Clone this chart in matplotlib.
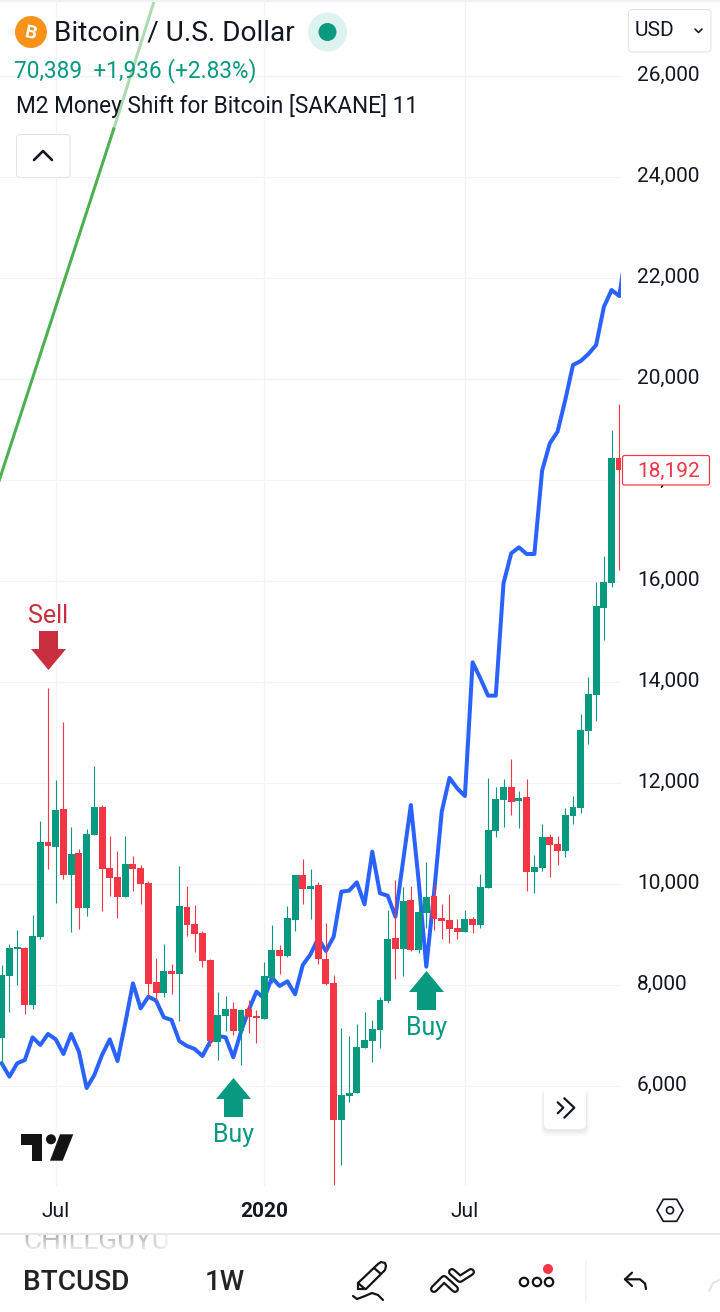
# BTCUSD weekly chart, phone layout, with M2 shift line and Buy/Sell signals
import numpy as np
import matplotlib
matplotlib.use("Agg")
import matplotlib.pyplot as plt
from matplotlib.path import Path
from matplotlib.patches import Circle, FancyBboxPatch, Polygon, Rectangle
from matplotlib.transforms import ScaledTranslation

# weekly candles
opens = [6957, 8178, 8719, 8733, 7611, 8950, 10831, 10732, 11485, 10178, 10614, 9525, 10970, 11524,
         10317, 10138, 9742, 10396, 10317, 10020, 8059, 7841, 8277, 8218, 9544, 9208, 9030, 8495,
         6871, 7386, 7525, 7089, 7525, 7366, 7327, 8139, 8693, 8574, 9287, 10178, 9901, 9980, 8515,
         8040, 5327, 5802, 5862, 6752, 6891, 7109, 7683, 8931, 8713, 9683, 8693, 9426, 9762, 9327,
         9287, 9129, 9049, 9307, 9188, 9921, 11049, 11663, 11920, 11643, 11722, 10237, 10317, 10931,
         10792, 10653, 11346, 11505, 13029, 13742, 15465, 15960, 18435]
highs = [8396, 8812, 9089, 8759, 9386, 11247, 13881, 12059, 13207, 11128, 10693, 11089, 12336, 11564,
         10950, 10653, 10950, 10554, 10376, 10059, 8535, 8812, 8416, 10356, 9960, 9584, 9069, 8515,
         7861, 7782, 7663, 7525, 7703, 7505, 8455, 9188, 8792, 9564, 10178, 10495, 10297, 10033, 9228,
         8198, 7149, 6990, 7228, 7465, 7307, 7762, 9485, 10079, 9940, 9960, 9762, 10435, 10026, 9604,
         9802, 9307, 9485, 9346, 10198, 12099, 11920, 12079, 12475, 11841, 12079, 10574, 11188, 10990,
         10950, 11505, 11742, 13366, 14098, 15979, 16494, 18989, 19504]
lows = [6383, 7465, 8000, 7426, 7525, 8911, 10297, 9624, 10099, 9049, 9109, 9366, 10970, 9465,
        9762, 9327, 9742, 9861, 9604, 7762, 7703, 7762, 7822, 7287, 8970, 8653, 8356, 6792,
        6515, 7089, 7010, 6416, 7050, 6852, 7327, 8040, 8218, 8554, 9069, 9604, 9307, 8416, 8000,
        4040, 4436, 5683, 5862, 6752, 6475, 6752, 7644, 8119, 8178, 8673, 8634, 9129, 9089, 8911,
        8832, 8911, 9049, 9030, 9129, 9921, 10931, 11128, 11366, 11109, 9861, 9822, 10257, 10139,
        10376, 10534, 11188, 11406, 12772, 13227, 14831, 15880, 16217]
closes = [8198, 8733, 8733, 7611, 8970, 10831, 10752, 11465, 10178, 10594, 9525, 10990, 11524, 10297,
          10119, 9742, 10396, 10297, 10000, 8020, 7841, 8277, 8218, 9564, 9188, 9010, 8475, 6891,
          7406, 7525, 7089, 7505, 7366, 7353, 8178, 8693, 8574, 9327, 10178, 9901, 9960, 8515, 8020,
          5327, 5822, 5862, 6772, 6911, 7129, 7703, 8911, 8713, 9663, 8693, 9445, 9742, 9307, 9267,
          9109, 9049, 9307, 9188, 9940, 11069, 11683, 11920, 11624, 11703, 10237, 10336, 10931, 10772,
          10653, 11366, 11524, 13049, 13762, 15504, 15979, 18435, 18192]

# M2 line, one value a week (last one runs past the clip edge)
m2_shift = [6449, 6185, 6449, 6515, 6964, 6812, 7030, 6924, 6634, 7030, 6680, 5961, 6218, 6614,
            6924, 6495, 7241, 8033, 7538, 7769, 7690, 7360, 7307, 6891, 6792, 6733, 6594, 6878,
            6990, 6964, 6568, 7076, 7505, 7868, 7736, 8145, 7980, 8073, 7815, 8396, 8607, 8924, 8673,
            8957, 9848, 9868, 10033, 9597, 10640, 9815, 9769, 9353, 10462, 11564, 10079, 8363, 9815,
            11432, 12100, 11894, 11742, 14389, 14072, 13729, 13729, 15953, 16547, 16666, 16534, 16534,
            18184, 18725, 18956, 19583, 20276, 20355, 20494, 20672, 21425, 21761, 21642, 22650]

# long green trend line, the part behind the legend is paler
trend_x = [-2, 14.51]
trend_y = [17204, 24949]
trend_pale_x = [14.51, 22]
trend_pale_y = [24949, 28568]

price_ticks = [6000, 8000, 10000, 12000, 14000, 16000, 18000, 20000, 22000, 24000, 26000]
time_ticks = [7, 34, 60]
time_labels = ["Jul", "2020", "Jul"]

# signals: week, where the arrow sits, label
sell_signals = [(6, 14623, "Sell")]
buy_signals = [(30, 5773, "Buy"), (55, 7907, "Buy")]

last_price = 18192

GREEN = "#089981"
RED = "#F23645"
BLUE = "#2962FF"
INK = "#131722"
GRID = "#F2F3F6"
px = 0.72  # one pixel in points at dpi 100

plt.rcParams["font.family"] = ["Roboto", "DejaVu Sans"]

fig = plt.figure(figsize=(7.2, 13.12), dpi=100)
ax = fig.add_axes([0, (1312 - 1186) / 1312, 621 / 720, 1186 / 1312], zorder=1)
ax.set_xlim(-0.22, 80.22)
ax.set_ylim(4020, 27503)

weeks = np.arange(len(opens))
o = np.array(opens)
c = np.array(closes)
colors = [GREEN if up else RED for up in c >= o]

ax.plot(trend_x, trend_y, color="#4CAF50", lw=3.0 * px, zorder=2)
ax.plot(trend_pale_x, trend_pale_y, color="#4CAF50", lw=3.0 * px, alpha=0.45, zorder=2)
ax.plot(np.arange(len(m2_shift)), m2_shift, color=BLUE, lw=4.0 * px, zorder=3, solid_joinstyle="round")

ax.vlines(weeks, lows, highs, colors=colors, lw=1.1 * px, zorder=4)
ax.bar(weeks, np.abs(c - o).clip(min=25), bottom=np.minimum(o, c), width=0.9, color=colors, zorder=5)

# arrow markers, drawn in pixels around their centre
arrow_up = Path([(0, 19.5), (17.5, -1.5), (9.5, -1.5), (9.5, -19.5), (-9.5, -19.5), (-9.5, -1.5), (-17.5, -1.5), (0, 19.5)], closed=True)
arrow_down = Path(arrow_up.vertices * [1, -1], closed=True)

for week, price, label in sell_signals:
    ax.plot([week], [price], marker=arrow_down, ms=39 * px, mfc="#CA2F3F", mew=0, zorder=6)
    ax.annotate(label, (week, price), xytext=(0, 34 * px), textcoords="offset points",
                ha="center", va="center", color="#CA2F3F", fontsize=18)
for week, price, label in buy_signals:
    ax.plot([week], [price], marker=arrow_up, ms=39 * px, mfc=GREEN, mew=0, zorder=6)
    ax.annotate(label, (week, price), xytext=(0, -38 * px), textcoords="offset points",
                ha="center", va="center", color=GREEN, fontsize=18)

ax.set_yticks(price_ticks)
ax.set_yticklabels([f"{v:,}" for v in price_ticks], fontsize=15, color=INK)
ax.yaxis.tick_right()
ax.tick_params(axis="y", length=0, pad=16 * px)
# price labels sit a little above their grid lines
lift = ScaledTranslation(0, 3 / 100, fig.dpi_scale_trans)
for lab in ax.get_yticklabels():
    lab.set_transform(lab.get_transform() + lift)
ax.set_xticks(time_ticks)
ax.set_xticklabels(time_labels, fontsize=15, color=INK)
ax.get_xticklabels()[1].set_fontweight("bold")
ax.tick_params(axis="x", length=0, pad=16 * px)
ax.grid(True, color=GRID, lw=1.2 * px, zorder=0)
ax.set_axisbelow(True)
for side in ax.spines.values():
    side.set_visible(False)

# everything around the chart, in screen pixels
ov = fig.add_axes([0, 0, 1, 1], zorder=5)
ov.set_xlim(0, 720)
ov.set_ylim(1312, 0)
ov.axis("off")


def box(x0, y0, x1, y1, edge="#E0E3EB", face="white", r=4, lw=1.0, alpha=1, z=3):
    ov.add_patch(FancyBboxPatch((x0, y0), x1 - x0, y1 - y0, boxstyle=f"round,pad=0,rounding_size={r}",
                                fc=face, ec=edge, lw=lw * px, alpha=alpha, zorder=z))


def line(xs, ys, color=INK, w=2.0, z=5):
    ov.plot(xs, ys, color=color, lw=w * px, solid_capstyle="round", solid_joinstyle="round", zorder=z)


# top strip and right hairline
ov.add_patch(Rectangle((0, 0), 720, 2, fc="#EFF1F4", ec="none"))
line([719.5, 719.5], [0, 1234], color="#F0F1F4", w=1)

# title row
ov.add_patch(Circle((31, 32), 16, fc="#F7931A", ec="none", zorder=4))
ov.text(31, 33, "B", color="white", fontsize=13.5, fontweight="bold", ha="center", va="center", rotation=-12, zorder=5)
ov.text(54, 33.5, "Bitcoin / U.S. Dollar", color=INK, fontsize=20.2, va="center", zorder=5)
ov.add_patch(Circle((327.5, 32), 19.5, fc="#DEF2EF", ec="none", zorder=4))
ov.add_patch(Circle((327.5, 32), 9, fc=GREEN, ec="none", zorder=5))
ov.text(14, 71, "70,389  +1,936 (+2.83%)", color=GREEN, fontsize=16.3, va="center", zorder=5)
ov.text(16, 106, "M2 Money Shift for Bitcoin [SAKANE] 11", color=INK, fontsize=16.3, va="center", zorder=5)

# legend toggle and currency box
box(16.5, 134.5, 70, 177.5)
line([34, 43, 52], [160, 151, 160], w=2.6)
box(628.5, 9.5, 711, 52)
ov.text(635, 31, "USD", color=INK, fontsize=15, va="center", zorder=5)
line([695, 698.5, 702], [29, 32.5, 29], w=1.6)

# last price tag
box(622.5, 455.5, 709.5, 485, edge=RED, r=2, lw=1.2)
ov.text(637, 471, f"{last_price:,}", color=RED, fontsize=15, va="center", zorder=5)

# TradingView mark
ov.add_patch(Polygon([(21, 1134.3), (42.3, 1134.3), (42.3, 1160.7), (31.7, 1160.7), (31.7, 1145), (21, 1145)], fc="#131313", ec="none"))
ov.add_patch(Circle((51, 1139.3), 5, fc="#131313", ec="none"))
ov.add_patch(Polygon([(60, 1134.3), (73.3, 1134.3), (62.7, 1160.7), (50, 1160.7)], fc="#131313", ec="none"))

# scroll button with soft shadow
for grow, a in [(6, 0.04), (4, 0.05), (2, 0.07)]:
    box(544 - grow / 2, 1090, 586 + grow / 2, 1130 + grow, edge="none", face="#808080", r=6, alpha=a, z=2)
box(544, 1088, 586, 1129, edge="none", r=5)
line([557.7, 563.3, 557.7], [1102.3, 1107.7, 1113.3], w=2.2)
line([564.3, 574.3, 564.3], [1098.3, 1107.7, 1117.7], w=2.2)

# settings hexagon
ov.add_patch(Polygon([(657, 1210.3), (663.3, 1199.3), (676.7, 1199.3), (683, 1210.3), (676.7, 1221.3), (663.3, 1221.3)],
                     fc="white", ec=INK, lw=1.7 * px, joinstyle="round"))
ov.add_patch(Circle((670, 1210.3), 3.5, fc="white", ec=INK, lw=1.7 * px))

# bottom toolbar, with a list row peeking out under the divider and fading away
line([0, 720], [1234, 1234], color="#E6E8EC", w=2)
peek = ov.text(23, 1249, "CHILLGUYUSD", color="#A9A9AD", fontsize=20, va="baseline", zorder=1)
peek.set_clip_on(True)
peek.set_clip_path(Rectangle((0, 1235), 720, 20, transform=ov.transData))
across = np.linspace(0, 1, 62) ** 2
down = np.linspace(0.05, 0.85, 18)
fade = np.ones((18, 62, 4))
fade[:, :, 3] = np.maximum.outer(down, across)
ov.imshow(fade, extent=(110, 172, 1252, 1234), aspect="auto", zorder=2)
ov.add_patch(Rectangle((172, 1235), 60, 20, fc="white", ec="none", zorder=2))
fade_left = np.ones((18, 2, 4))
fade_left[:, :, 3] = down[:, None]
ov.imshow(fade_left, extent=(15, 110, 1252, 1234), aspect="auto", zorder=2)
ov.set_xlim(0, 720)
ov.set_ylim(1312, 0)

ov.text(23, 1282.5, "BTCUSD", color="#222326", fontsize=20.2, fontweight="medium", va="center")
ov.text(205, 1282.5, "1W", color="#222326", fontsize=20, fontweight="medium", va="center")

# pencil
line([358, 358, 378, 381, 385, 386, 385, 366, 358], [1289, 1283, 1264, 1262, 1263, 1266, 1270, 1289, 1289], color="#131313", w=2.2)
line([358, 365], [1283, 1289], color="#131313", w=2.2)
line([374, 381], [1268, 1274], color="#131313", w=2.2)
line([353, 357, 365, 372, 378, 383], [1296, 1299, 1296, 1293, 1295, 1300], color="#131313", w=2.2)

# ribbon icon, a thick stroke hollowed out by a thin white one
for xs, ys in [([434, 444, 455], [1289, 1279, 1289]), ([452, 460, 471], [1272, 1279, 1272])]:
    line(xs, ys, color="#131313", w=8)
    line(xs, ys, color="white", w=3.6, z=6)

# more dots
for cx in [524, 537, 549]:
    ov.add_patch(Circle((cx, 1282), 4.2, fc="white", ec="#131313", lw=2.2 * px, zorder=5))
ov.add_patch(Circle((548, 1269), 5, fc=RED, ec="none", zorder=6))
line([586, 586], [1260, 1302], color="#F0F1F4", w=1.5)

# undo arrow
line([632, 625, 632], [1272.7, 1279.3, 1286], color="#131313", w=2.2)
line([625, 640, 645, 646], [1279.3, 1279.3, 1283.5, 1289], color="#131313", w=2.2)
line([709, 713, 719], [1291, 1283, 1280], color="#E3E4E7", w=2)

fig.savefig("out.png", dpi=100)
